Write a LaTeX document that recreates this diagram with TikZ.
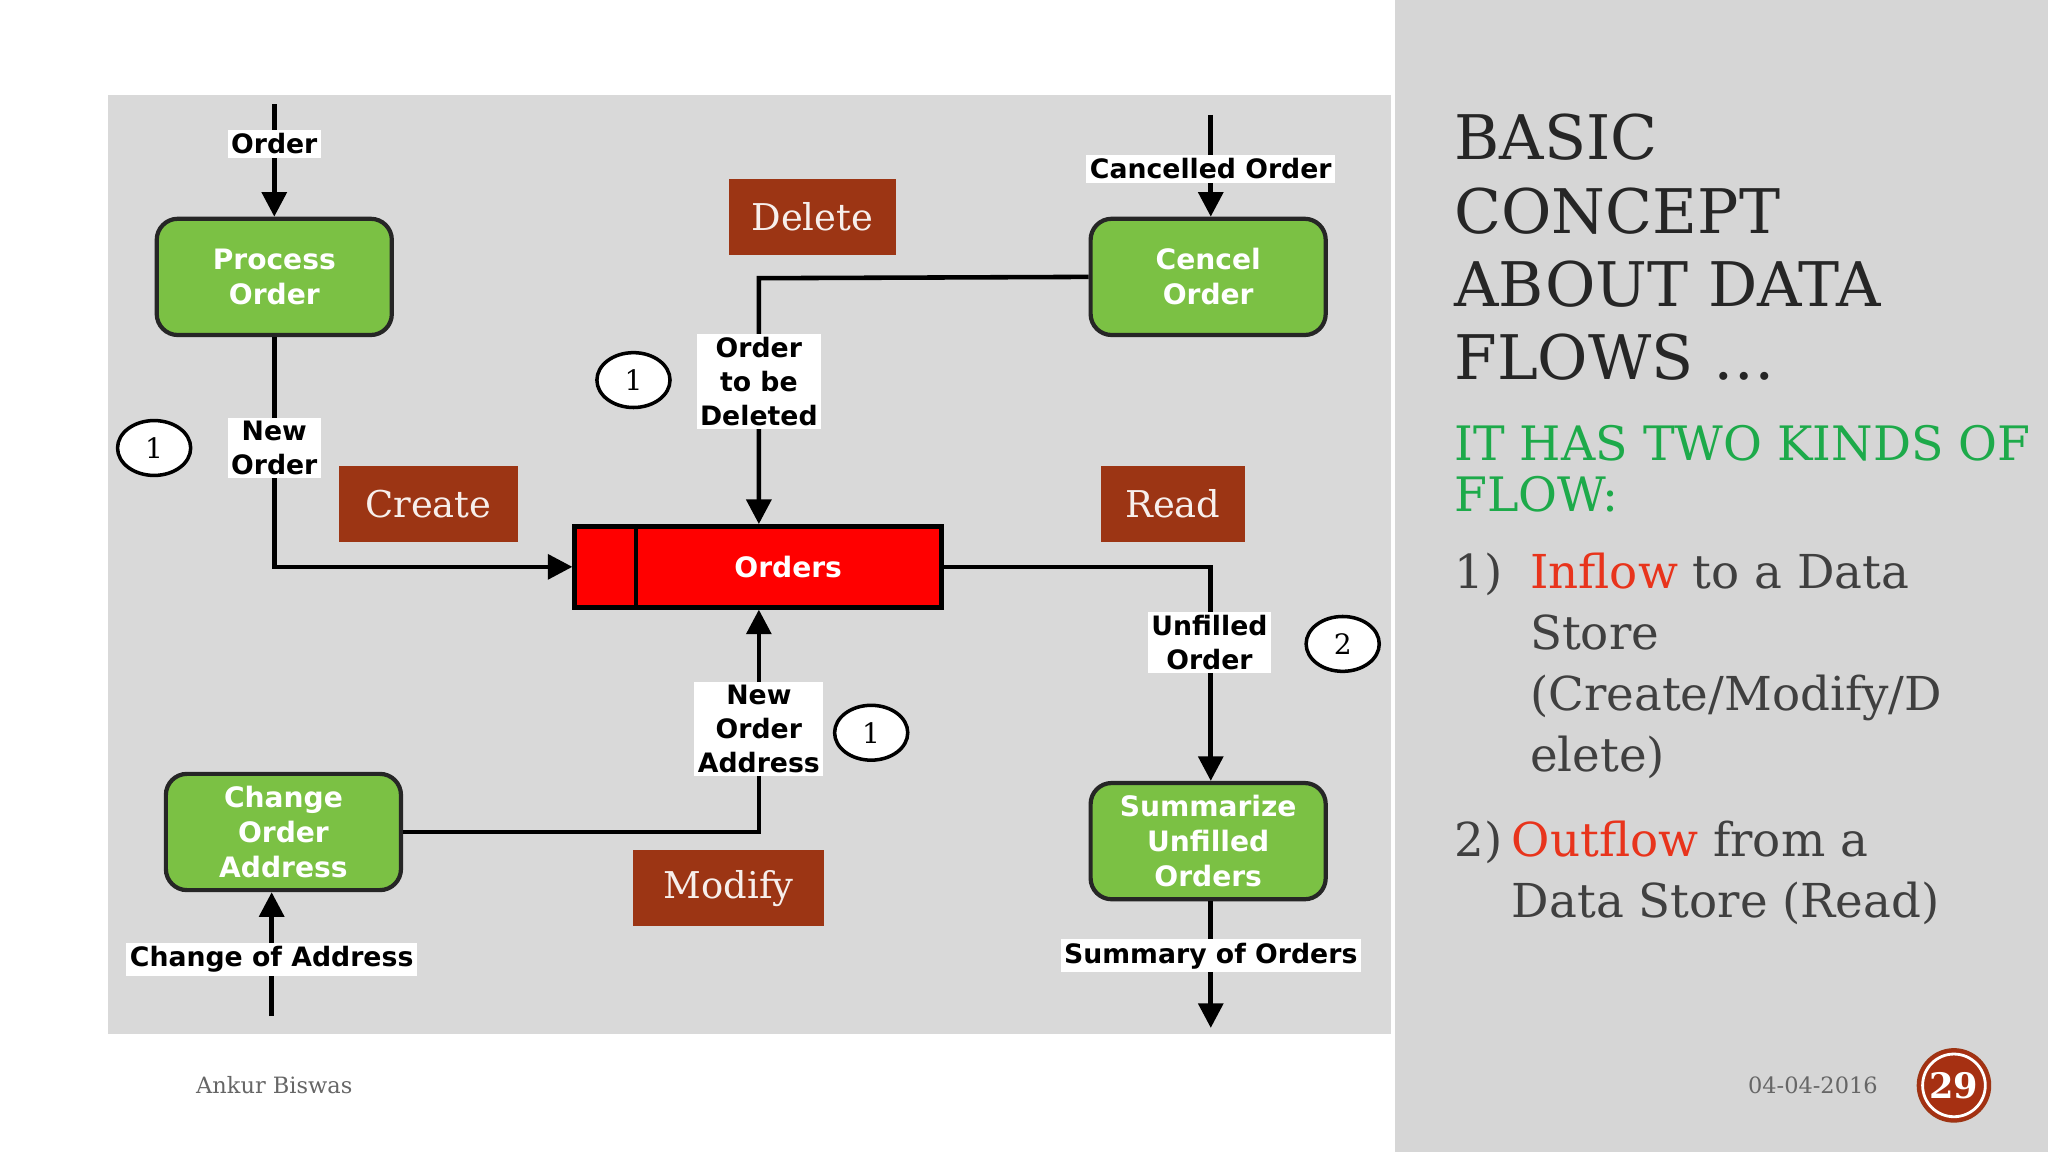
\documentclass[tikz,border=0pt]{standalone}
\usepackage{fontspec}
\setmainfont{DejaVu Serif}
\newfontfamily\lab{DejaVu Sans}
\usetikzlibrary{arrows.meta,shapes.geometric}
\definecolor{pgray}{HTML}{D9D9D9}
\definecolor{rgray}{HTML}{D6D6D6}
\definecolor{pgreen}{HTML}{7BC144}
\definecolor{brick}{HTML}{9C3514}
\definecolor{ored}{HTML}{FF0000}
\definecolor{tgreen}{HTML}{1DAA4A}
\definecolor{tred}{HTML}{E8341C}
\definecolor{tgray}{HTML}{404040}
\begin{document}
\begin{tikzpicture}[x=0.013061cm,y=-0.013061cm,
 proc/.style={draw=black!85,line width=1.2pt,fill=pgreen,rounded corners=6pt,text=white,font=\lab\bfseries\fontsize{8}{10}\selectfont,align=center,minimum width=180*0.013061cm,minimum height=89*0.013061cm,inner sep=0pt},
 lbl/.style={fill=white,inner sep=1pt,font=\lab\bfseries\fontsize{7.6}{9.6}\selectfont,align=center},
 op/.style={fill=brick,text=white!92!brick,font=\fontsize{10.5}{12}\selectfont,inner sep=0pt,minimum height=58*0.013061cm},
 circ/.style={draw=black,line width=1pt,fill=white,ellipse,minimum width=56*0.013061cm,minimum height=42*0.013061cm,inner sep=0pt,font=\fontsize{8}{10}\selectfont},
 flow/.style={line width=1.3pt,-{Triangle[length=7pt,width=7pt]}},
 ]
\useasboundingbox (0,0) rectangle (1568,882);
\fill[white] (0,0) rectangle (1568,882);
\fill[rgray] (1068,0) rectangle (1568,882);
\fill[pgray] (83,73) rectangle (1065,792);
% process nodes
\node[proc] (po) at (210,212) {Process\\Order};
\node[proc] (co) at (925,212) {Cencel\\Order};
\node[proc] (ca) at (217,637) {Change\\Order\\Address};
\node[proc] (su) at (925,644) {Summarize\\Unfilled\\Orders};
% data store
\node[draw=black,line width=1.3pt,fill=ored,minimum width=281*0.013061cm,minimum height=62*0.013061cm,inner sep=0pt,text=white,font=\lab\bfseries\fontsize{8}{10}\selectfont] (ord) at (580.5,434) {\hspace{0.6cm}Orders};
\draw[line width=1.3pt] (487,403) -- (487,465);
% operation labels
\node[op,minimum width=128*0.013061cm] (del) at (622,166) {Delete};
\node[op,minimum width=137*0.013061cm] (cre) at (328,386) {Create};
\node[op,minimum width=110*0.013061cm] (rea) at (898,386) {Read};
\node[op,minimum width=146*0.013061cm] (mod) at (558,680) {Modify};
% free ends
\coordinate (oin) at (210,80);
\coordinate (cin) at (927,88);
\coordinate (chin) at (208,778);
\coordinate (sout) at (927,787);
\draw[flow] (oin) -- (oin|-po.north) node[lbl,pos=0.35]{Order};
\draw[flow] (cin) -- (cin|-co.north) node[lbl,pos=0.53]{Cancelled Order};
\draw[flow] (chin) -- (chin|-ca.south) node[lbl,pos=0.46]{Change of Address};
\draw[flow] (su.south-|sout) -- (sout) node[lbl,pos=0.43]{Summary of Orders};
\draw[flow] (po.south) -- (210,434) -- (ord.west);
\node[lbl] at (210,343){New\\Order};
\draw[flow] (co.west) -- (581,213) -- (ord.north-|581,0);
\node[lbl] at (581,292) {Order\\to be\\Deleted};
\draw[flow] (ord.east) -- (927,434) -- (su.north-|927,0);
\node[lbl] at (926,492) {Unfilled\\Order};
\draw[flow] (ca.east) -- (581,637) -- (ord.south-|581,0);
\node[lbl] at (581,558) {New\\Order\\Address};
% circles
\node[circ] at (118,343) {1};
\node[circ] at (485,291) {1};
\node[circ] at (667,561) {1};
\node[circ] at (1028,493) {2};
% footer
\node[text=tgray!80,font=\fontsize{6.4}{8}\selectfont] (au) at (210,831) {Ankur Biswas};
\node[text=tgray!80,font=\fontsize{6.4}{8}\selectfont] (dt) at (1388,831) {04-04-2016};
\node[circle,fill=brick!90!red,draw=brick,minimum size=56*0.013061cm,inner sep=0pt] (pg) at (1496,831) {};
\draw[white,line width=0.8pt] (pg.center) circle (24);
\node[text=white,font=\bfseries\fontsize{10}{12}\selectfont] at (pg.center) {29};
% right text
\node[anchor=north west,align=left,text=black!85,font=\fontsize{17.5}{20.8}\selectfont,inner sep=0pt] (ti) at (1113,87) {BASIC\\CONCEPT\\ABOUT DATA\\FLOWS …};
\node[anchor=north west,align=left,text=tgreen,font=\fontsize{13.5}{14.5}\selectfont,inner sep=0pt] (st) at (1113,325) {IT HAS TWO KINDS OF\\FLOW:};
\node[anchor=north west,text=tgray,font=\fontsize{13.3}{17.3}\selectfont,inner sep=0pt] (n1) at (1113,423) {1)};
\node[anchor=north west,align=left,text=tgray,font=\fontsize{13.3}{17.3}\selectfont,inner sep=0pt] (l1) at (1171,423) {\textcolor{tred}{Inflow} to a Data\\Store\\(Create/Modify/D\\elete)};
\node[anchor=north west,text=tgray,font=\fontsize{13.3}{17.3}\selectfont,inner sep=0pt] (n2) at (1113,628) {2)};
\node[anchor=north west,align=left,text=tgray,font=\fontsize{13.3}{17.3}\selectfont,inner sep=0pt] (l2) at (1157,628) {\textcolor{tred}{Outflow} from a\\Data Store (Read)};
\end{tikzpicture}
\end{document}
